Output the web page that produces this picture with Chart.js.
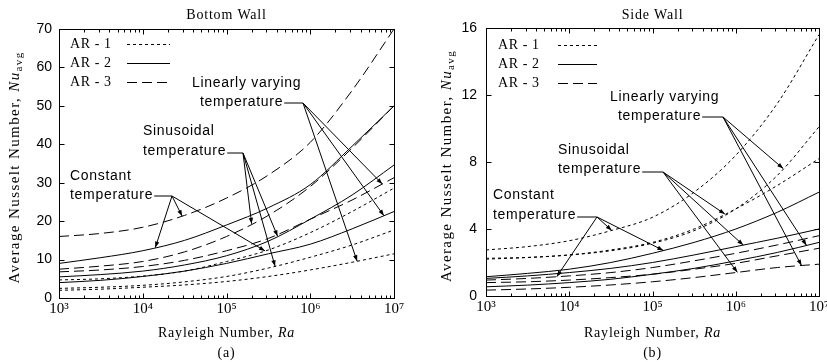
<!DOCTYPE html>
<html lang="en">
<head>
<meta charset="UTF-8">
<title>Average Nusselt Number - Bottom and Side Wall</title>
<script src="https://cdn.jsdelivr.net/npm/chart.js"></script>
<style>
  html, body { margin: 0; padding: 0; background: #fff; overflow: hidden; }
  .panel { position: absolute; top: 0; height: 362px; }
  #boxA { left: 0; width: 410px; }
  #boxB { left: 410px; width: 440px; }
</style>
</head>
<body>
<div class="panel" id="boxA"><canvas id="bottomChart"></canvas></div>
<div class="panel" id="boxB"><canvas id="sideChart"></canvas></div>
<script>
const raValues = [1e3, 3.16e3, 1e4, 3.16e4, 1e5, 3.16e5, 1e6, 3.16e6, 1e7];
const raTicks = [1e3, 1e4, 1e5, 1e6, 1e7];
const raTickLabels = ['10³', '10⁴', '10⁵', '10⁶', '10⁷'];

// (a) Bottom wall, Nu_avg
const bottomNuTicks = [0, 10, 20, 30, 40, 50, 60, 70];
const bottomConstAR1 = [4.7, 5.0, 5.7, 7.0, 9.5, 12.5, 17, 22.5, 28.6];
const bottomConstAR2 = [9, 10.5, 12.3, 15, 19, 23.5, 29.5, 39.5, 50];
const bottomConstAR3 = [16, 16.8, 18.4, 21.5, 26, 32, 40.5, 54, 70];
const bottomSinAR1 = [2.5, 2.8, 3.3, 4.2, 5.6, 7.8, 10.6, 13.8, 17.7];
const bottomSinAR2 = [5.5, 6.1, 7.0, 8.6, 11, 14.8, 20.5, 26.8, 34.6];
const bottomSinAR3 = [7.5, 8.3, 9.5, 12, 16, 21.5, 29, 39, 50];
const bottomLinAR1 = [2.0, 2.3, 2.8, 3.4, 4.3, 5.6, 7.3, 9.3, 11.5];
const bottomLinAR2 = [4.0, 4.6, 5.6, 7.0, 9.0, 11.5, 14, 18, 22.5];
const bottomLinAR3 = [6.8, 7.3, 8.2, 9.8, 12.3, 15.5, 20.5, 25.5, 31.3];

// (b) Side wall, Nu_avg
const sideNuTicks = [0, 4, 8, 12, 16];
const sideConstAR1 = [2.75, 2.95, 3.3, 3.9, 4.7, 6.2, 8.4, 11.5, 15.6];
const sideConstAR2 = [1.15, 1.35, 1.6, 2.0, 2.55, 3.2, 4.0, 5.0, 6.2];
const sideConstAR3 = [0.95, 1.05, 1.2, 1.4, 1.7, 2.1, 2.55, 3.05, 3.6];
const sideSinAR1 = [2.2, 2.3, 2.45, 2.75, 3.2, 4.0, 5.2, 6.6, 8.2];
const sideSinAR2 = [1.05, 1.2, 1.4, 1.65, 2.0, 2.45, 2.95, 3.45, 4.0];
const sideSinAR3 = [0.8, 0.85, 0.95, 1.1, 1.3, 1.6, 1.95, 2.4, 2.85];
const sideLinAR1 = [2.25, 2.3, 2.45, 2.7, 3.15, 3.9, 5.2, 7.2, 10.1];
const sideLinAR2 = [0.55, 0.65, 0.8, 1.0, 1.3, 1.65, 2.1, 2.6, 3.2];
const sideLinAR3 = [0.35, 0.42, 0.52, 0.66, 0.85, 1.1, 1.4, 1.7, 1.9];

const arNames = ['AR - 1', 'AR - 2', 'AR - 3'];
const arDash = [[3, 3], [], [10, 5]];

const serif = '"Liberation Serif", "Times New Roman", serif';
const sans = '"Liberation Sans", Arial, sans-serif';

function lineSet(label, values, ar) {
    return {
        label: label,
        data: values.map((v, i) => ({ x: raValues[i], y: v })),
        borderColor: '#000',
        borderWidth: 1,
        borderDash: arDash[ar],
        pointRadius: 0,
        fill: false,
        cubicInterpolationMode: 'monotone'
    };
}

// y pixel of a drawn curve at a given Ra (for the arrow tips)
function curvePoint(chart, dsIndex, ra) {
    const px = chart.scales.x.getPixelForValue(ra);
    const pts = chart.getDatasetMeta(dsIndex).data;
    for (let i = 1; i < pts.length; i++) {
        if (px <= pts[i].x) {
            const t = (px - pts[i - 1].x) / (pts[i].x - pts[i - 1].x);
            return [px, pts[i - 1].y + t * (pts[i].y - pts[i - 1].y)];
        }
    }
    return [px, pts[pts.length - 1].y];
}

function arrow(ctx, x0, y0, x1, y1) {
    ctx.beginPath();
    ctx.moveTo(x0, y0);
    ctx.lineTo(x1, y1);
    ctx.stroke();
    const ang = Math.atan2(y1 - y0, x1 - x0);
    ctx.beginPath();
    ctx.moveTo(x1, y1);
    ctx.lineTo(x1 - 6 * Math.cos(ang) + 2.2 * Math.sin(ang), y1 - 6 * Math.sin(ang) - 2.2 * Math.cos(ang));
    ctx.lineTo(x1 - 6 * Math.cos(ang) - 2.2 * Math.sin(ang), y1 - 6 * Math.sin(ang) + 2.2 * Math.cos(ang));
    ctx.closePath();
    ctx.fill();
}

// frame, inward ticks, titles, legend and the labelled arrows
const wallDecor = {
    id: 'wallDecor',
    afterDraw(chart, args, o) {
        const ctx = chart.ctx, a = chart.chartArea;
        const xs = chart.scales.x, ys = chart.scales.y;
        ctx.save();
        ctx.strokeStyle = '#000';
        ctx.fillStyle = '#000';
        ctx.lineWidth = 1;

        const L = Math.round(a.left) + 0.5, R = Math.round(a.right) + 0.5;
        const T = Math.round(a.top) + 0.5, B = Math.round(a.bottom) + 0.5;
        ctx.strokeRect(L, T, R - L, B - T);

        ctx.beginPath();
        for (let e = 3; e < 7; e++) {
            for (let k = 1; k < 10; k++) {
                const px = Math.round(xs.getPixelForValue(k * Math.pow(10, e))) + 0.5;
                const len = k === 1 ? 5 : 3;
                ctx.moveTo(px, B); ctx.lineTo(px, B - len);
                ctx.moveTo(px, T); ctx.lineTo(px, T + len);
            }
        }
        o.nuTicks.forEach(v => {
            const py = Math.round(ys.getPixelForValue(v)) + 0.5;
            ctx.moveTo(L, py); ctx.lineTo(L + 5, py);
            ctx.moveTo(R, py); ctx.lineTo(R - 5, py);
        });
        ctx.stroke();

        const cx = (a.left + a.right) / 2;
        ctx.textBaseline = 'middle';
        ctx.letterSpacing = '0.8px';

        // title
        ctx.font = '14px ' + serif;
        ctx.textAlign = 'center';
        ctx.fillText(o.title, cx, 15);

        // x axis title
        ctx.textAlign = 'left';
        const xt1 = 'Rayleigh Number, ';
        ctx.font = '14px ' + serif;
        const w1 = ctx.measureText(xt1).width;
        ctx.font = 'italic 14px ' + serif;
        const w2 = ctx.measureText('Ra').width;
        let sx = cx - (w1 + w2) / 2;
        ctx.font = '14px ' + serif;
        ctx.fillText(xt1, sx, 333);
        ctx.font = 'italic 14px ' + serif;
        ctx.fillText('Ra', sx + w1, 333);
        ctx.font = '14px ' + serif;
        ctx.textAlign = 'center';
        ctx.fillText(o.tag, cx, 353);

        // y axis title (rotated)
        ctx.save();
        ctx.translate(o.yTitleX, (a.top + a.bottom) / 2 + 4);
        ctx.rotate(-Math.PI / 2);
        ctx.textAlign = 'left';
        ctx.letterSpacing = '1.4px';
        const yt1 = 'Average Nusselt Number, ';
        ctx.font = '15px ' + serif;
        const v1 = ctx.measureText(yt1).width;
        ctx.font = 'italic 15px ' + serif;
        const v2 = ctx.measureText('Nu').width;
        ctx.font = '11px ' + serif;
        const v3 = ctx.measureText('avg').width;
        let sy = -(v1 + v2 + v3) / 2;
        ctx.font = '15px ' + serif;
        ctx.fillText(yt1, sy, 0);
        ctx.font = 'italic 15px ' + serif;
        ctx.fillText('Nu', sy + v1, 0);
        ctx.font = '11px ' + serif;
        ctx.fillText('avg', sy + v1 + v2, 4);
        ctx.restore();

        // legend
        ctx.textAlign = 'left';
        ctx.font = '14px ' + serif;
        ctx.letterSpacing = '0.6px';
        arNames.forEach((name, i) => {
            const y = o.legend.y + i * 19;
            ctx.fillText(name, o.legend.x, y);
            ctx.setLineDash(arDash[i]);
            ctx.beginPath();
            ctx.moveTo(o.legend.lineFrom, Math.round(y) + 0.5);
            ctx.lineTo(o.legend.lineTo, Math.round(y) + 0.5);
            ctx.stroke();
        });
        ctx.setLineDash([]);

        // labelled arrows
        ctx.font = '14px ' + sans;
        ctx.letterSpacing = '0.7px';
        o.notes.forEach(n => {
            ctx.fillText(n.text[0], n.x[0], n.y[0]);
            ctx.fillText(n.text[1], n.x[1], n.y[1]);
            const end = n.x[1] + ctx.measureText(n.text[1]).width + 1;
            ctx.beginPath();
            ctx.moveTo(end, n.origin[1]);
            ctx.lineTo(n.origin[0], n.origin[1]);
            ctx.stroke();
            n.targets.forEach(t => {
                const p = curvePoint(chart, t[0], t[1]);
                arrow(ctx, n.origin[0], n.origin[1], p[0], p[1]);
            });
        });
        ctx.restore();
    }
};

function makeChart(id, sets, yMax, nuTicks, frame, decor) {
    const datasets = sets.map(s => lineSet(s[0], s[1], s[2]));
    return new Chart(document.getElementById(id), {
        type: 'line',
        data: { datasets: datasets },
        options: {
            responsive: true,
            maintainAspectRatio: false,
            animation: false,
            events: [],
            layout: { padding: { top: frame.top, right: frame.right, left: 0, bottom: 0 } },
            plugins: {
                legend: { display: false },
                tooltip: { enabled: false },
                wallDecor: decor
            },
            scales: {
                x: {
                    type: 'logarithmic',
                    min: 1e3,
                    max: 1e7,
                    afterBuildTicks: s => { s.ticks = raTicks.map(v => ({ value: v })); },
                    afterFit: s => { s.height = frame.xHeight; },
                    grid: { display: false, drawTicks: false },
                    border: { display: false },
                    ticks: {
                        callback: v => raTickLabels[raTicks.indexOf(v)],
                        color: '#000',
                        font: { family: serif, size: 15 },
                        padding: 2,
                        maxRotation: 0,
                        autoSkip: false
                    }
                },
                y: {
                    min: 0,
                    max: yMax,
                    afterBuildTicks: s => { s.ticks = nuTicks.map(v => ({ value: v })); },
                    afterFit: s => { s.width = frame.yWidth; },
                    grid: { display: false, drawTicks: false },
                    border: { display: false },
                    ticks: {
                        color: '#000',
                        font: { family: sans, size: 14 },
                        padding: frame.yPad
                    }
                }
            }
        },
        plugins: [wallDecor]
    });
}

makeChart('bottomChart', [
    ['Constant, AR-1', bottomConstAR1, 0],
    ['Constant, AR-2', bottomConstAR2, 1],
    ['Constant, AR-3', bottomConstAR3, 2],
    ['Sinusoidal, AR-1', bottomSinAR1, 0],
    ['Sinusoidal, AR-2', bottomSinAR2, 1],
    ['Sinusoidal, AR-3', bottomSinAR3, 2],
    ['Linear, AR-1', bottomLinAR1, 0],
    ['Linear, AR-2', bottomLinAR2, 1],
    ['Linear, AR-3', bottomLinAR3, 2]
], 70, bottomNuTicks,
{ top: 29, right: 16, xHeight: 64, yWidth: 59, yPad: 7 },
{
    title: 'Bottom Wall',
    tag: '(a)',
    nuTicks: bottomNuTicks,
    yTitleX: 15,
    legend: { x: 70, y: 44, lineFrom: 127, lineTo: 170 },
    notes: [
        { text: ['Linearly varying', 'temperature'], x: [192, 200], y: [83, 102], origin: [303, 103],
          targets: [[8, 10 ** 6.86], [7, 10 ** 6.88], [6, 10 ** 6.56]] },
        { text: ['Sinusoidal', 'temperature'], x: [143, 143], y: [131, 151], origin: [243, 153],
          targets: [[5, 10 ** 5.30], [4, 10 ** 5.61], [3, 10 ** 5.58]] },
        { text: ['Constant', 'temperature'], x: [70, 70], y: [176, 195], origin: [172, 196],
          targets: [[1, 10 ** 4.15], [2, 10 ** 4.47], [0, 10 ** 5.46]] }
    ]
});

makeChart('sideChart', [
    ['Constant, AR-1', sideConstAR1, 0],
    ['Constant, AR-2', sideConstAR2, 1],
    ['Constant, AR-3', sideConstAR3, 2],
    ['Sinusoidal, AR-1', sideSinAR1, 0],
    ['Sinusoidal, AR-2', sideSinAR2, 1],
    ['Sinusoidal, AR-3', sideSinAR3, 2],
    ['Linear, AR-1', sideLinAR1, 0],
    ['Linear, AR-2', sideLinAR2, 1],
    ['Linear, AR-3', sideLinAR3, 2]
], 16, sideNuTicks,
{ top: 28, right: 31, xHeight: 66, yWidth: 76, yPad: 9 },
{
    title: 'Side Wall',
    tag: '(b)',
    nuTicks: sideNuTicks,
    yTitleX: 37,
    legend: { x: 88, y: 45, lineFrom: 148, lineTo: 187 },
    notes: [
        { text: ['Linearly varying', 'temperature'], x: [200, 208], y: [97, 116], origin: [313, 117],
          targets: [[6, 10 ** 6.57], [7, 10 ** 6.85], [8, 10 ** 6.79]] },
        { text: ['Sinusoidal', 'temperature'], x: [148, 148], y: [150, 169], origin: [253, 172],
          targets: [[3, 10 ** 5.87], [4, 10 ** 6.09], [8, 10 ** 6.02]] },
        { text: ['Constant', 'temperature'], x: [83, 83], y: [195, 215], origin: [187, 217],
          targets: [[2, 10 ** 3.85], [0, 10 ** 4.51], [1, 10 ** 5.13]] }
    ]
});
</script>
</body>
</html>
